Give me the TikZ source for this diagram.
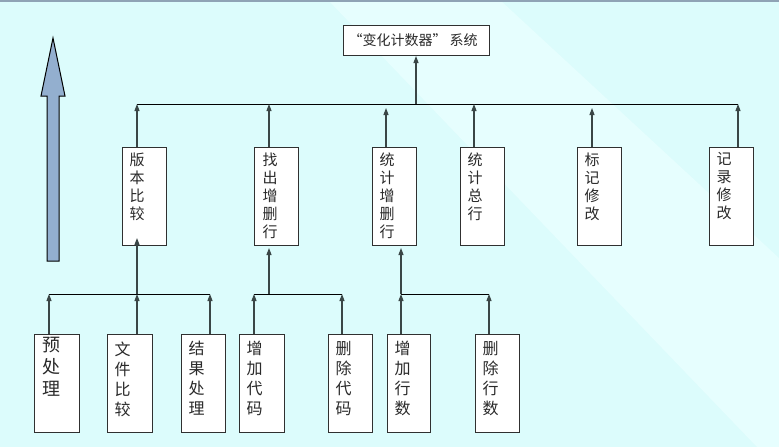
\documentclass[tikz,border=0pt]{standalone}
\usepackage{fontspec}
\newfontfamily\cjk{Noto Sans CJK SC}
\usetikzlibrary{arrows.meta}
\definecolor{bg}{HTML}{DCFCFC}
\definecolor{band}{HTML}{E6FEFE}
\definecolor{topline}{HTML}{8FA3B5}
\definecolor{bigarrow}{HTML}{93AFCF}
\definecolor{conn}{HTML}{3A4646}
\definecolor{boxc}{HTML}{303030}
\definecolor{txt}{HTML}{2A2A2A}
\newcommand{\vt}[7]{\parbox[c][#2pt][t]{#1pt}{\vspace*{#6pt}\fontsize{#3pt}{#4pt}\selectfont\leftskip=#5pt\relax\noindent #7}}
\tikzset{
  box/.style={draw=boxc, line width=1pt, fill=white, inner sep=0pt, anchor=north west, font=\cjk, text=txt},
  conn/.style={draw=conn, line width=1.1pt, -{Triangle[length=7pt,width=5pt]}},
  bus/.style={draw=black, line width=0.9pt}
}
\begin{document}
\begin{tikzpicture}[x=1pt,y=-1pt]
\useasboundingbox (0,0) rectangle (779,447);
% background
\fill[bg] (0,0) rectangle (779,447);
\fill[band] (328,0) -- (500,0) -- (779,258) -- (779,447) -- (757,447) -- cycle;
\fill[topline] (0,0) rectangle (779,2);
% big arrow
\draw[fill=bigarrow, draw=black, line width=1pt, line join=miter]
  (53,38) -- (65,96) -- (59,96) -- (59,261) -- (47,261) -- (47,96) -- (41,96) -- cycle;
% top box
\node[box] (top) at (343,25) {\parbox[c][30pt][c]{146pt}{\fontsize{14pt}{16pt}\selectfont\hspace*{5pt}“变化计数器” 系统}};
% second row
\node[box] (a)  at (122,147) {\vt{44}{98}{15}{18}{7}{5}{版\\本\\比\\较}};
\node[box] (bx) at (254,147) {\vt{44}{98}{15}{18}{8}{5}{找\\出\\增\\删\\行}};
\node[box] (c)  at (372,147) {\vt{44}{98}{15}{18}{7}{5}{统\\计\\增\\删\\行}};
\node[box] (d)  at (460,147) {\vt{44}{98}{15}{18}{7}{5}{统\\计\\总\\行}};
\node[box] (e)  at (577,147) {\vt{44}{98}{15}{18}{7}{5}{标\\记\\修\\改}};
\node[box] (f)  at (709,147) {\vt{44}{98}{15}{18}{7}{5}{记\\录\\修\\改}};
% bottom row
\node[box] (p1) at (34,334)  {\vt{45}{98}{18}{22}{8}{3}{预\\处\\理}};
\node[box] (p2) at (107,334) {\vt{45}{98}{16}{20}{7}{7}{文\\件\\比\\较}};
\node[box] (p3) at (181,334) {\vt{44}{98}{16}{20}{7}{7}{结\\果\\处\\理}};
\node[box] (p4) at (239,334) {\vt{45}{98}{16}{20}{7}{7}{增\\加\\代\\码}};
\node[box] (p5) at (328,334) {\vt{44}{98}{16}{20}{7}{7}{删\\除\\代\\码}};
\node[box] (p6) at (387,334) {\vt{43}{98}{16}{20}{7}{7}{增\\加\\行\\数}};
\node[box] (p7) at (475,334) {\vt{44}{98}{16}{20}{7}{7}{删\\除\\行\\数}};
% junctions on upper bus
\coordinate (ja) at (137,104);
\coordinate (jb) at (269,104);
\coordinate (jc) at (386,104);
\coordinate (jt) at (416,104);
\coordinate (jd) at (474,104);
\coordinate (je) at (592,104);
\coordinate (jf) at (738,104);
\draw[bus] (ja) -- (jf);
\draw[conn] (jt) -- (top.south -| jt);
\draw[conn] (a.north -| ja) -- (ja);
\draw[conn] (bx.north -| jb) -- (jb);
\draw[conn] (c.north -| jc) -- ([yshift=-4pt]jc);
\draw[conn] (d.north -| jd) -- (jd);
\draw[conn] (e.north -| je) -- ([yshift=-4pt]je);
\draw[conn] (f.north -| jf) -- (jf);
% lower buses
\coordinate (g1a) at (49,294);
\coordinate (g1b) at (137,294);
\coordinate (g1c) at (210,294);
\coordinate (g2a) at (254,294);
\coordinate (g2v) at (269,294);
\coordinate (g2b) at (342,294);
\coordinate (g3a) at (401,294);
\coordinate (g3b) at (489,294);
\draw[bus] (g1a) -- (g1c);
\draw[bus] (g2a) -- (g2b);
\draw[bus] (g3a) -- (g3b);
\draw[conn] (g1b) -- ([yshift=8pt]a.south -| g1b);
\draw[conn] (g2v) -- ([yshift=-2pt]bx.south -| g2v);
\draw[conn] (g3a) -- ([yshift=-2pt]c.south -| g3a);
\draw[conn] (p1.north -| g1a) -- (g1a);
\draw[conn] (p2.north -| g1b) -- (g1b);
\draw[conn] (p3.north -| g1c) -- (g1c);
\draw[conn] (p4.north -| g2a) -- (g2a);
\draw[conn] (p5.north -| g2b) -- (g2b);
\draw[conn] (p6.north -| g3a) -- (g3a);
\draw[conn] (p7.north -| g3b) -- (g3b);
\end{tikzpicture}
\end{document}
